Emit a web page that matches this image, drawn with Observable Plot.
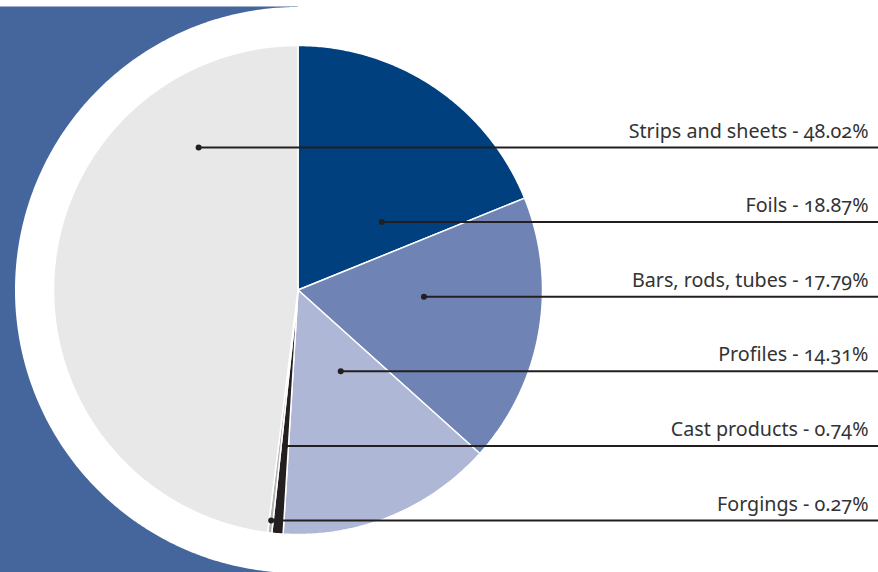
<!DOCTYPE html>
<html><head><meta charset="utf-8">
<script src="https://cdn.jsdelivr.net/npm/d3@7"></script>
<script src="https://cdn.jsdelivr.net/npm/@observablehq/plot@0.6"></script>
<style>
html,body{margin:0;padding:0;background:#fff;overflow:hidden}
#chart svg{display:block}
#chart svg text{font-variant-numeric:oldstyle-nums;font-feature-settings:"onum" 1;}
</style></head><body><div id="chart"></div>
<script>
// Data (clockwise from 12 o'clock)
const categories = ["Foils", "Bars, rods, tubes", "Profiles", "Cast products", "Forgings", "Strips and sheets"];
const shares = [18.87, 17.79, 14.31, 0.74, 0.27, 48.02];
const palette = ["#00407f", "#6f84b5", "#aeb8d6", "#231f20", "#b3b3b3", "#e8e8e8"];
// Order of the labels from top to bottom
const labelOrder = ["Strips and sheets", "Foils", "Bars, rods, tubes", "Profiles", "Cast products", "Forgings"];

// Layout (pixels -> units of pie radius)
const W = 878, H = 572, CX = 297.5, CY = 289.5, R = 244.5;
const xmin = -CX / R, xmax = (W - CX) / R;
const ymin = (CY - H) / R, ymax = CY / R;
const Rw = 283 / R;              // white disc radius
const rowTop = (CY - 147) / R, rowStep = 74.6 / R;
const xText = (868 - CX) / R;

const arcs = d3.pie().sort(null).value(d => d).startAngle(0).endAngle(2 * Math.PI)(shares);

function sector(a0, a1, r) {
  const pts = [[0, 0]];
  const n = Math.max(2, Math.ceil((a1 - a0) / (Math.PI / 360)));
  for (let k = 0; k <= n; k++) {
    const a = a0 + (a1 - a0) * k / n;
    pts.push([r * Math.sin(a), r * Math.cos(a)]);
  }
  pts.push([0, 0]);
  return pts;
}
function circle(r) {
  const pts = [];
  for (let k = 0; k <= 720; k++) {
    const a = 2 * Math.PI * k / 720;
    pts.push([r * Math.sin(a), r * Math.cos(a)]);
  }
  return pts;
}
function chordMid(a0, a1, y) {
  let lo = Infinity, hi = -Infinity;
  for (let k = 0; k <= 4000; k++) {
    const x = -1 + 2 * k / 4000;
    if (x * x + y * y > 1) continue;
    let a = Math.atan2(x, y); if (a < 0) a += 2 * Math.PI;
    if (a >= a0 && a <= a1) { lo = Math.min(lo, x); hi = Math.max(hi, x); }
  }
  return (lo + hi) / 2;
}

const rows = labelOrder.map((name, i) => {
  const j = categories.indexOf(name);
  const y = rowTop - i * rowStep;
  return {name, share: shares[j], y, x: chordMid(arcs[j].startAngle, arcs[j].endAngle, y)};
});

const marks = [
  Plot.rect([0], {x1: xmin, x2: 0, y1: ymin, y2: Rw, fill: "#45669c"}),
  Plot.line(circle(Rw), {x: d => d[0], y: d => d[1], fill: "white", stroke: "none"}),
  ...arcs.map((a, j) => Plot.line(sector(a.startAngle, a.endAngle, 1), {
    x: d => d[0], y: d => d[1], fill: palette[j], stroke: "white", strokeWidth: 1.5, strokeLinejoin: "miter"
  })),
  Plot.ruleY(rows, {y: "y", x1: "x", x2: xmax, stroke: "#231f20", strokeWidth: 2}),
  Plot.dot(rows, {x: "x", y: "y", r: 3, fill: "#231f20"}),
  Plot.text(rows, {
    x: xText, y: "y", text: d => `${d.name} - ${d.share.toFixed(2)}%`,
    textAnchor: "end", lineAnchor: "bottom", dy: -10, fontSize: 19.7, fill: "#333"
  })
];

const chart = Plot.plot({
  width: W, height: H, margin: 0,
  x: {domain: [xmin, xmax], axis: null},
  y: {domain: [ymin, ymax], axis: null},
  style: {fontFamily: "'Noto Sans', sans-serif", background: "white", overflow: "hidden"},
  marks
});
document.getElementById("chart").append(chart);
</script>
</body></html>
